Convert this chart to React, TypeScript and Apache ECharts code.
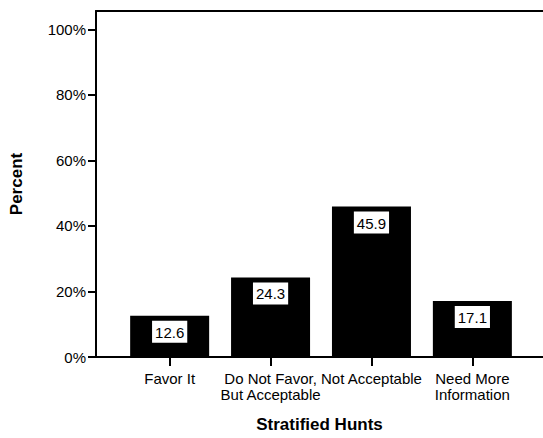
import React, { useEffect, useRef } from "react";
import * as echarts from "echarts";

const categories = [
  "Favor It",
  "Do Not Favor,\nBut Acceptable",
  "Not Acceptable",
  "Need More\nInformation",
];
const percents = [12.6, 24.3, 45.9, 17.1];
const yTicks = [0, 20, 40, 60, 80, 100];
const xTitle = "Stratified Hunts";
const yTitle = "Percent";

const FONT = "'Liberation Sans', Arial, Helvetica, sans-serif";

export default function App() {
  const ref = useRef<HTMLDivElement>(null);
  useEffect(() => {
    if (!ref.current) return;
    const chart = echarts.init(ref.current, undefined, { renderer: "svg" });
    const catIdx = categories.map((_, i) => i);
    const xMin = -0.73;
    const xMax = 3.7;
    chart.setOption({
      animation: false,
      backgroundColor: "#ffffff",
      grid: { left: 88, right: 0, top: 11, bottom: 81, containLabel: false },
      xAxis: [
        {
          type: "value",
          min: xMin,
          max: xMax,
          position: "bottom",
          name: xTitle,
          nameLocation: "middle",
          nameGap: 59,
          nameTextStyle: { fontFamily: FONT, fontSize: 17, fontWeight: "bold", color: "#000" },
          axisLine: { show: true, onZero: false, lineStyle: { color: "#000", width: 2 } },
          axisTick: { show: true, customValues: catIdx, length: 9, lineStyle: { color: "#000", width: 2 } },
          axisLabel: {
            show: true,
            customValues: catIdx,
            margin: 13,
            fontFamily: FONT,
            fontSize: 15,
            lineHeight: 16,
            color: "#000",
            formatter: (v: number) => categories[Math.round(v)] ?? "",
          },
          splitLine: { show: false },
        },
        {
          type: "value",
          min: xMin,
          max: xMax,
          position: "top",
          axisLine: { show: true, onZero: false, lineStyle: { color: "#000", width: 2 } },
          axisTick: { show: false },
          axisLabel: { show: false },
          splitLine: { show: false },
        },
      ],
      yAxis: {
        type: "value",
        min: 0,
        max: 105.6,
        name: yTitle,
        nameLocation: "middle",
        nameRotate: 90,
        nameGap: 71,
        nameTextStyle: { fontFamily: FONT, fontSize: 17, fontWeight: "bold", color: "#000" },
        axisLine: { show: true, onZero: false, lineStyle: { color: "#000", width: 2 } },
        axisTick: { show: true, customValues: yTicks, length: 8, lineStyle: { color: "#000", width: 2 } },
        axisLabel: {
          show: true,
          customValues: yTicks,
          margin: 10,
          fontFamily: FONT,
          fontSize: 15,
          color: "#000",
          formatter: (v: number) => `${v}%`,
        },
        splitLine: { show: false },
      },
      series: [
        {
          type: "bar",
          xAxisIndex: 0,
          barWidth: 79,
          itemStyle: { color: "#000" },
          data: percents.map((p, i) => [i, p]),
          label: {
            show: true,
            position: "insideTop",
            distance: 5,
            formatter: (p: any) => String(p.value[1]),
            fontFamily: FONT,
            fontSize: 15,
            color: "#000",
            backgroundColor: "#fff",
            borderColor: "#000",
            borderWidth: 1,
            padding: [4, 3, 3, 3],
          },
        },
      ],
    });
    return () => chart.dispose();
  }, []);
  return (
    <div
      ref={ref}
      style={{ position: "absolute", left: 0, top: 0, width: 543, height: 438 }}
    />
  );
}
